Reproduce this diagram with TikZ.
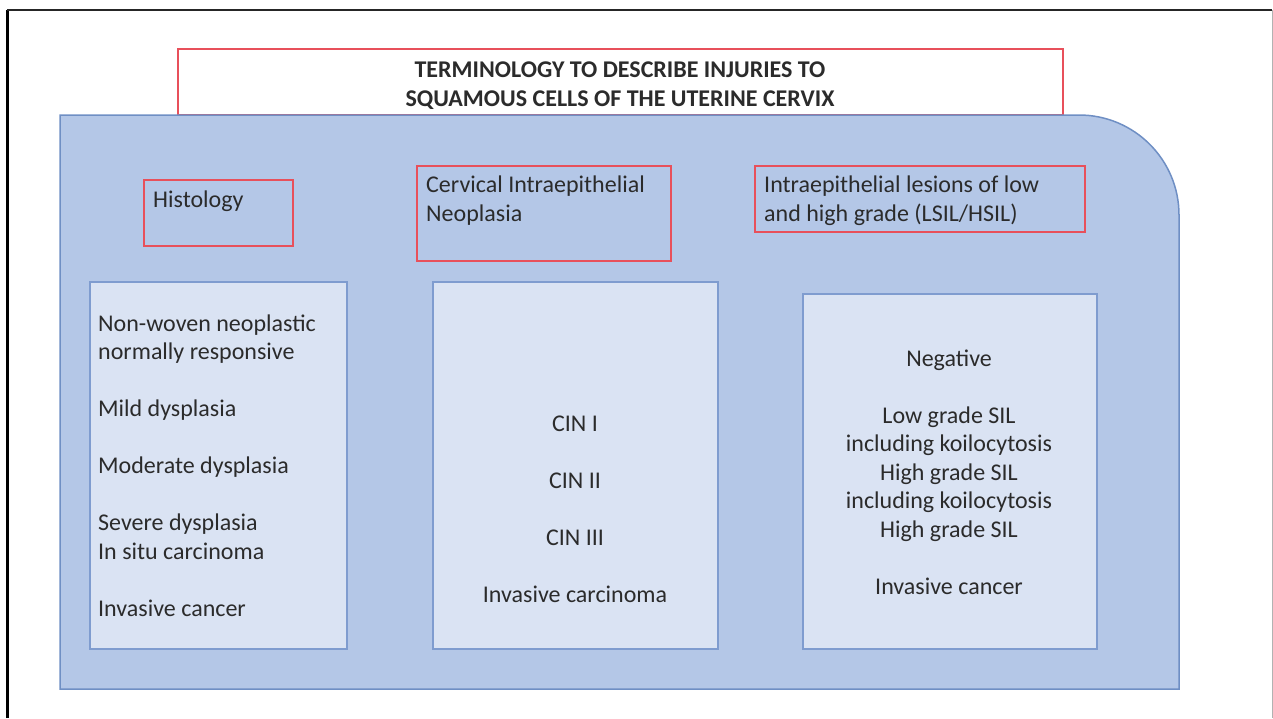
\documentclass[tikz,border=0pt]{standalone}
\usepackage{fontspec}
\setmainfont{Carlito}
\definecolor{panelblue}{HTML}{B4C7E7}
\definecolor{paneledge}{HTML}{6F8FC4}
\definecolor{listfill}{HTML}{DAE3F3}
\definecolor{listedge}{HTML}{7F9CCF}
\definecolor{headred}{HTML}{E8505B}
\definecolor{ink}{HTML}{2B2B2B}

\begin{document}
\begin{tikzpicture}[x=1pt,y=-1pt,
  headbox/.style={draw=headred,line width=1.5pt,anchor=north west,inner sep=0pt},
  listbox/.style={draw=listedge,fill=listfill,line width=1.5pt,anchor=north west,inner sep=0pt},
  words/.style={text=ink,font=\fontsize{24}{28.5}\selectfont,inner sep=0pt}]
  \useasboundingbox (0,0) rectangle (1273,718);
  \draw[line width=3pt] (7,718) -- (7,10);
  \draw[line width=1.2pt,black!85] (7,10) -- (1272,10);
  \draw[line width=1pt,black!30] (1272,10) -- (1272,718);

  \node[headbox,fill=white,minimum width=885pt,minimum height=66pt] (titlebox) at (177,48) {};
  \node[words,font=\bfseries\fontsize{24}{29}\selectfont,align=center,anchor=base] (title) at (620,106) {TERMINOLOGY TO DESCRIBE INJURIES TO\\SQUAMOUS CELLS OF THE UTERINE CERVIX};

  \draw[draw=paneledge,fill=panelblue,line width=1.5pt] (60,689) -- (60,115) [rounded corners=100pt] -- (1179,115) [sharp corners] -- (1179,689) -- cycle;

  \node[headbox,minimum width=149pt,minimum height=66pt] (histbox) at (143,179) {};
  \node[headbox,minimum width=254pt,minimum height=95pt] (cinbox) at (416,165) {};
  \node[headbox,minimum width=330pt,minimum height=66pt] (silbox) at (754,165) {};
  \node[words,anchor=base west] (histhead) at (153,207) {Histology};
  \node[words,anchor=base west,align=left] (cinhead) at (426,221) {Cervical Intraepithelial\\Neoplasia};
  \node[words,anchor=base west,align=left] (silhead) at (764,221) {Intraepithelial lesions of low\\and high grade (LSIL/HSIL)};

  \node[listbox,minimum width=257pt,minimum height=367pt] (histlistbox) at (89,281) {};
  \node[listbox,minimum width=285pt,minimum height=367pt] (cinlistbox) at (432,281) {};
  \node[listbox,minimum width=294pt,minimum height=355pt] (sillistbox) at (802,293) {};

  \node[words,anchor=base west,align=left] (histlist) at (98,616) {Non-woven neoplastic\\normally responsive\\[28.5pt]Mild dysplasia\\[28.5pt]Moderate dysplasia\\[28.5pt]Severe dysplasia\\In situ carcinoma\\[28.5pt]Invasive cancer};
  \node[words,anchor=base,align=center] (cinlist) at (575,602) {CIN I\\[28.5pt]CIN II\\[28.5pt]CIN III\\[28.5pt]Invasive carcinoma};
  \node[words,anchor=base,align=center] (sillist) at (949,594) {Negative\\[28.5pt]Low grade SIL\\including koilocytosis\\High grade SIL\\including koilocytosis\\High grade SIL\\[28.5pt]Invasive cancer};
\end{tikzpicture}
\end{document}
